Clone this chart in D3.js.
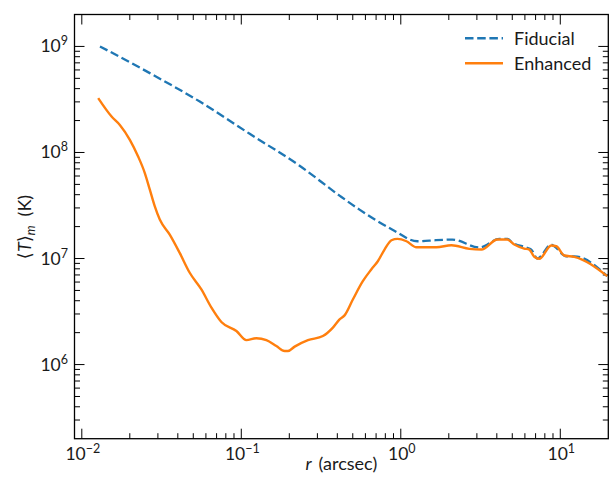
<!DOCTYPE html>
<html><head><meta charset="utf-8">
<script src="https://cdn.jsdelivr.net/npm/d3@7"></script>
<style>body{margin:0;background:#fff}svg{display:block}</style>
</head><body>
<svg id="c" width="609" height="488"></svg>
<script>
// ---- data ----
const fidR = [0.013, 0.0267, 0.0549, 0.1129, 0.232, 0.413, 0.551, 0.887, 1.272, 1.513, 2.107, 3.11, 4.15, 4.66, 5.01, 6.12, 6.58, 7.18, 8.78, 9.17, 10.9, 12.24, 19.7];
const fidT = [1.0e9, 5.6e8, 3.02e8, 1.5e8, 7.5e7, 3.92e7, 2.89e7, 1.87e7, 1.455e7, 1.476e7, 1.51e7, 1.27e7, 1.53e7, 1.53e7, 1.41e7, 1.27e7, 1.215e7, 1.0e7, 1.354e7, 1.305e7, 1.05e7, 1.05e7, 6.82e6];

const enhR = [0.01267, 0.01537, 0.01732, 0.02001, 0.02255, 0.02484, 0.0267, 0.02869, 0.03083, 0.0356, 0.0411, 0.0475, 0.0562, 0.065, 0.075, 0.0932, 0.1076, 0.1243, 0.1436, 0.1659, 0.1869, 0.1961, 0.216, 0.2617, 0.3248, 0.3752, 0.4132, 0.444, 0.5005, 0.578, 0.6528, 0.7178, 0.7907, 0.8745, 0.9535, 1.086, 1.254, 1.673, 2.077, 2.693, 3.201, 4.033, 4.66, 5.15, 5.94, 6.39, 6.87, 7.39, 8.78, 9.44, 10.59, 12.24, 19.7];
const enhT = [3.25e8, 2.18e8, 1.82e8, 1.317e8, 9.17e7, 6.4e7, 4.46e7, 3.1e7, 2.33e7, 1.68e7, 1.13e7, 7.34e6, 5.11e6, 3.44e6, 2.52e6, 2.07e6, 1.7e6, 1.77e6, 1.7e6, 1.496e6, 1.343e6, 1.343e6, 1.477e6, 1.7e6, 1.858e6, 2.23e6, 2.67e6, 2.91e6, 4.11e6, 6.12e6, 7.88e6, 9.43e6, 1.215e7, 1.487e7, 1.532e7, 1.455e7, 1.277e7, 1.277e7, 1.334e7, 1.234e7, 1.215e7, 1.51e7, 1.51e7, 1.354e7, 1.242e7, 1.215e7, 1.038e7, 9.94e6, 1.326e7, 1.305e7, 1.067e7, 1.038e7, 6.82e6];

const xTickValues = [0.01, 0.1, 1, 10];
const xTickExp = ["\u22122", "\u22121", "0", "1"];
const yTickValues = [1e6, 1e7, 1e8, 1e9];
const yTickExp = ["6", "7", "8", "9"];
const seriesNames = ["Fiducial", "Enhanced"];
const seriesColors = ["#1f77b4", "#ff7f0e"];

// ---- layout ----
const L = 74.5, R = 608.3, T = 14.5, B = 438.7;
const FONT = "Lato, 'DejaVu Sans', sans-serif";
const INK = "#1a1a1a";
const svg = d3.select("#c");
const x = d3.scaleLog().domain([0.009, 20]).range([L, R]);
const y = d3.scaleLog().domain([2e5, 2e9]).range([B, T]);

// minor ticks
function minors(lo, hi) {
  const out = [];
  for (let e = Math.floor(Math.log10(lo)) - 1; e <= Math.ceil(Math.log10(hi)); e++) {
    for (let k = 2; k <= 9; k++) {
      const v = k * Math.pow(10, e);
      if (v > lo && v < hi) out.push(v);
    }
  }
  return out;
}
const xMinor = minors(0.009, 20), yMinor = minors(2e5, 2e9);
const tickG = svg.append("g").attr("stroke", "#000").attr("stroke-width", 1);
const MAJ = 10, MIN = 5.5;
xTickValues.forEach(v => {
  const px = x(v);
  tickG.append("line").attr("x1", px).attr("x2", px).attr("y1", B).attr("y2", B - MAJ);
  tickG.append("line").attr("x1", px).attr("x2", px).attr("y1", T).attr("y2", T + MAJ);
});
xMinor.forEach(v => {
  const px = x(v);
  tickG.append("line").attr("x1", px).attr("x2", px).attr("y1", B).attr("y2", B - MIN);
  tickG.append("line").attr("x1", px).attr("x2", px).attr("y1", T).attr("y2", T + MIN);
});
yTickValues.forEach(v => {
  const py = y(v);
  tickG.append("line").attr("y1", py).attr("y2", py).attr("x1", L).attr("x2", L + MAJ);
  tickG.append("line").attr("y1", py).attr("y2", py).attr("x1", R).attr("x2", R - MAJ);
});
yMinor.forEach(v => {
  const py = y(v);
  tickG.append("line").attr("y1", py).attr("y2", py).attr("x1", L).attr("x2", L + MIN);
  tickG.append("line").attr("y1", py).attr("y2", py).attr("x1", R).attr("x2", R - MIN);
});

// tick labels
xTickValues.forEach((v, i) => {
  const t = svg.append("text").attr("x", x(v) + 1).attr("y", 460).attr("text-anchor", "middle")
    .attr("font-family", FONT).attr("font-size", 17.5).attr("fill", INK);
  t.append("tspan").text("10");
  t.append("tspan").attr("dy", -7).attr("font-size", 12.5).text(xTickExp[i]);
});
yTickValues.forEach((v, i) => {
  const t = svg.append("text").attr("x", 68).attr("y", y(v) + 6).attr("text-anchor", "end")
    .attr("font-family", FONT).attr("font-size", 17.5).attr("fill", INK);
  t.append("tspan").text("10");
  t.append("tspan").attr("dy", -7).attr("font-size", 12.5).text(yTickExp[i]);
});

// lines
const line = d3.line().x(d => x(d[0])).y(d => y(d[1])).curve(d3.curveMonotoneX);
svg.append("clipPath").attr("id", "pc").append("rect")
  .attr("x", L).attr("y", T).attr("width", R - L).attr("height", B - T);
svg.append("path").datum(fidR.map((r, i) => [r, fidT[i]]))
  .attr("d", line).attr("fill", "none").attr("stroke", seriesColors[0])
  .attr("stroke-width", 2.3).attr("stroke-dasharray", "8.5,3.7").attr("clip-path", "url(#pc)");
svg.append("path").datum(enhR.map((r, i) => [r, enhT[i]]))
  .attr("d", line).attr("fill", "none").attr("stroke", seriesColors[1])
  .attr("stroke-width", 2.4).attr("stroke-linejoin", "round").attr("clip-path", "url(#pc)");

// frame
svg.append("rect").attr("x", L).attr("y", T).attr("width", R - L).attr("height", B - T)
  .attr("fill", "none").attr("stroke", "#000").attr("stroke-width", 1.3);

// legend
seriesNames.forEach((n, i) => {
  const ly = 38.3 + i * 25;
  svg.append("line").attr("x1", 465).attr("x2", 503).attr("y1", ly).attr("y2", ly)
    .attr("stroke", seriesColors[i]).attr("stroke-width", 2.4)
    .attr("stroke-dasharray", i === 0 ? "8.5,3.7" : null);
  svg.append("text").attr("x", 514).attr("y", ly + 6.7).attr("font-family", FONT)
    .attr("font-size", 18).attr("fill", INK).text(n);
});

// axis labels
const xl = svg.append("text").attr("x", 341.4).attr("y", 469.5).attr("text-anchor", "middle")
  .attr("font-family", FONT).attr("font-size", 18).attr("fill", INK);
xl.append("tspan").attr("font-style", "italic").text("r");
xl.append("tspan").text("\u2009 (arcsec)");

const yl = svg.append("text").attr("transform", "translate(31,227) rotate(-90)")
  .attr("text-anchor", "middle").attr("font-family", FONT).attr("font-size", 18).attr("fill", INK);
yl.append("tspan").text("\u27E8");
yl.append("tspan").attr("font-style", "italic").text("T");
yl.append("tspan").text("\u27E9");
yl.append("tspan").attr("font-style", "italic").attr("font-size", 12.5).attr("dy", 4).text("m");
yl.append("tspan").attr("dy", -4).text("\u2002(K)");
</script>
</body></html>
